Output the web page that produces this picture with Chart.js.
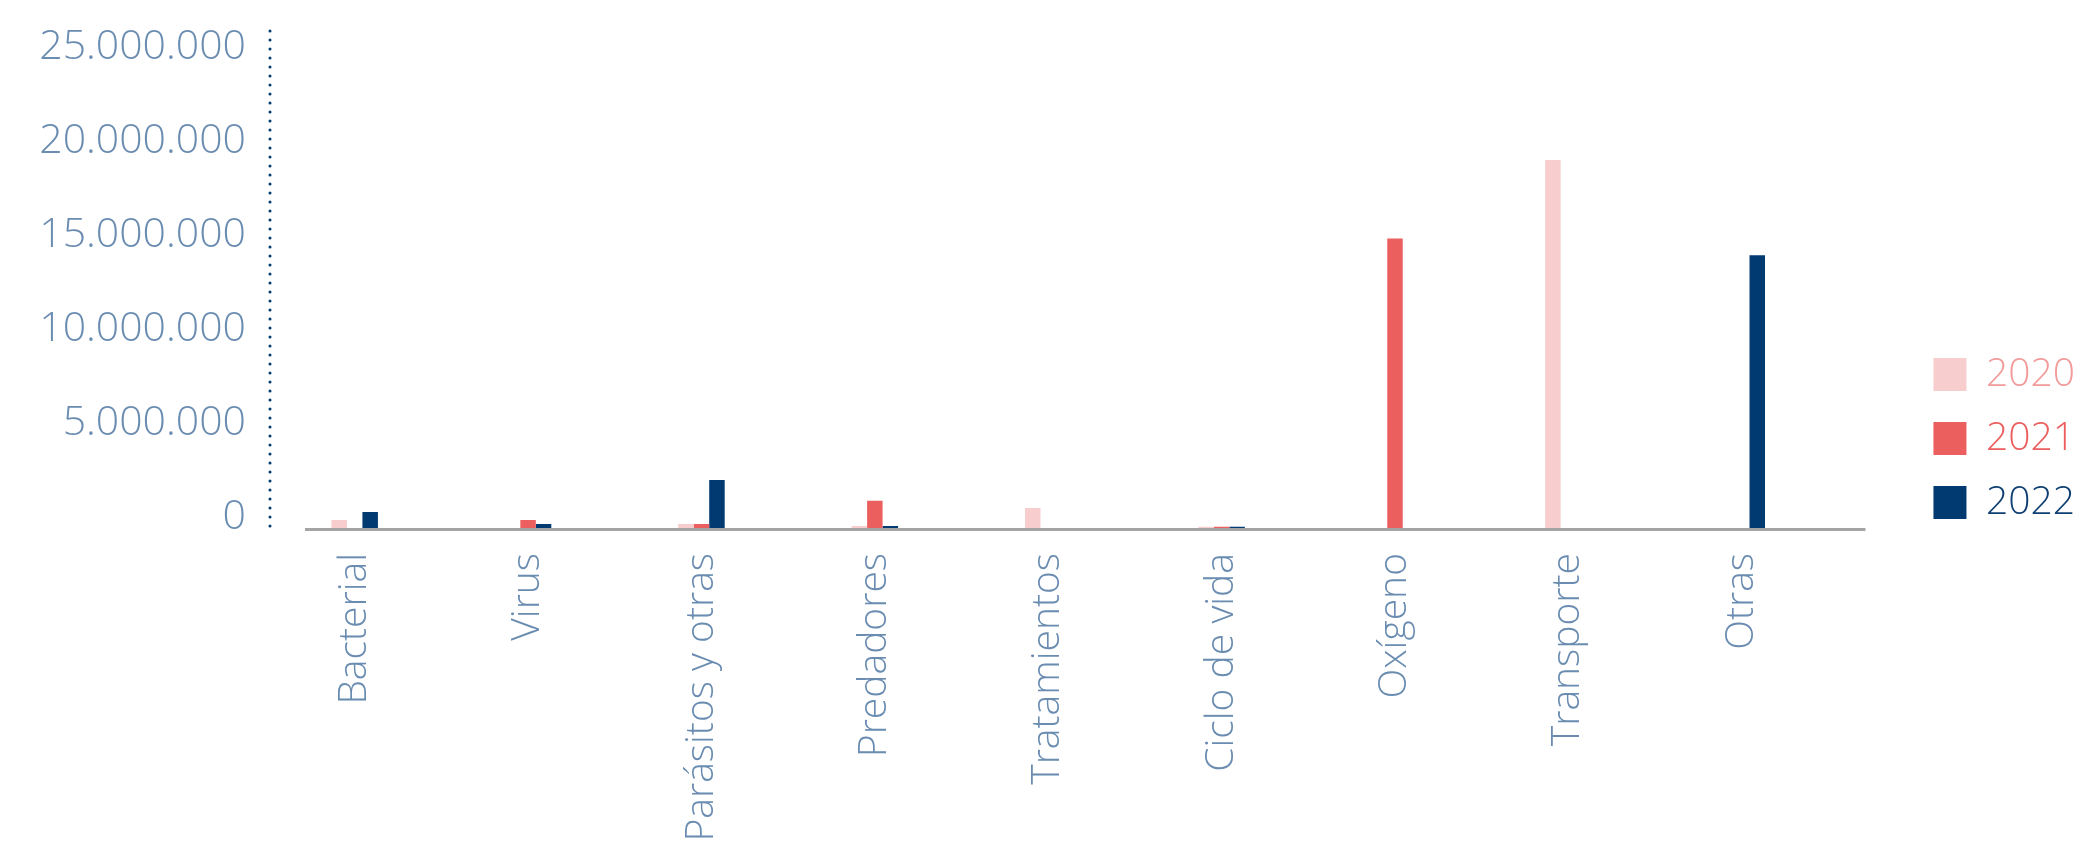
<!DOCTYPE html>
<html>
<head>
<meta charset="utf-8">
<script src="https://cdn.jsdelivr.net/npm/chart.js@4.4.1/dist/chart.umd.min.js"></script>
<style>
  html, body { margin: 0; padding: 0; background: #ffffff; }
  #wrap { width: 2085px; height: 853px; position: relative; }
</style>
</head>
<body>
<div id="wrap"><canvas id="c" width="2085" height="853"></canvas></div>
<script>
const categories = ['Bacterial', 'Virus', 'Parásitos y otras', 'Predadores', 'Tratamientos', 'Ciclo de vida', 'Oxígeno', 'Transporte', 'Otras'];
const seriesNames = ['2020', '2021', '2022'];
const values2020 = [430000, 0, 210000, 100000, 1070000, 60000, 0, 19570000, 0];
const values2021 = [0, 430000, 210000, 1450000, 0, 60000, 15400000, 0, 0];
const values2022 = [850000, 210000, 2550000, 100000, 0, 60000, 0, 0, 14500000];
const yTickValues = [0, 5000000, 10000000, 15000000, 20000000, 25000000];
const yMax = 26800000;

const barColors = ['#f7cdcd', '#ec5f5f', '#003a70'];
const legendTextColors = ['#f29b9b', '#ec5f5f', '#0f3f72'];
const tickColor = '#6a8cb1';
const fontFamily = "'Open Sans', Roboto, sans-serif";

function fmt(v) {
  return String(Math.round(v)).replace(/\B(?=(\d{3})+(?!\d))/g, '.');
}

const axisDecorPlugin = {
  id: 'axisDecor',
  afterDatasetsDraw(chart) {
    const { ctx, chartArea, scales } = chart;
    const y0 = scales.y.getPixelForValue(0);
    ctx.save();
    ctx.fillStyle = '#a4a4a4';
    ctx.fillRect(chartArea.left + 37, y0, chartArea.right - chartArea.left, 3);
    ctx.strokeStyle = '#003a70';
    ctx.lineWidth = 3;
    ctx.lineCap = 'round';
    ctx.setLineDash([0, 9]);
    ctx.beginPath();
    ctx.moveTo(scales.y.right + 2, chartArea.bottom - 2);
    ctx.lineTo(scales.y.right + 2, chartArea.top);
    ctx.stroke();
    ctx.restore();
  }
};

const seriesValues = [values2020, values2021, values2022];

new Chart(document.getElementById('c'), {
  type: 'bar',
  data: {
    labels: categories,
    datasets: seriesNames.map((name, i) => ({
      label: name,
      data: seriesValues[i],
      backgroundColor: barColors[i],
      borderWidth: 0,
      categoryPercentage: 0.268,
      barPercentage: 1.0,
      yAxisID: 'y'
    }))
  },
  plugins: [axisDecorPlugin],
  options: {
    responsive: false,
    animation: false,
    devicePixelRatio: 1,
    layout: { padding: { top: 24, left: 0, right: 0, bottom: 0 } },
    plugins: {
      tooltip: { enabled: false },
      legend: {
        position: 'right',
        align: 'center',
        labels: {
          boxWidth: 33,
          boxHeight: 33,
          padding: 25,
          font: { family: fontFamily, size: 39, weight: '300' },
          generateLabels(chart) {
            return chart.data.datasets.map((ds, i) => ({
              text: ds.label,
              fillStyle: barColors[i],
              strokeStyle: barColors[i],
              lineWidth: 0,
              fontColor: legendTextColors[i],
              hidden: false,
              datasetIndex: i
            }));
          }
        }
      }
    },
    scales: {
      x: {
        grid: { display: false, drawTicks: false },
        border: { display: false },
        ticks: {
          color: tickColor,
          font: { family: fontFamily, size: 39, weight: '300' },
          maxRotation: 90,
          minRotation: 90,
          padding: 25,
          autoSkip: false
        },
        afterFit(s) { s.height = 325; s.paddingLeft = 0; s.paddingRight = 0; }
      },
      y: {
        min: 0,
        max: yMax,
        grid: { display: false, drawTicks: false },
        border: { display: false },
        ticks: {
          color: tickColor,
          font: { family: fontFamily, size: 41, weight: '300' },
          padding: 22,
          labelOffset: -11,
          callback: (v) => fmt(v)
        },
        afterBuildTicks(s) { s.ticks = yTickValues.map(v => ({ value: v })); },
        afterFit(s) { s.width = 268; s.paddingTop = 0; s.paddingBottom = 0; }
      },
      spacer: {
        position: 'right',
        display: true,
        grid: { display: false, drawTicks: false },
        border: { display: false },
        ticks: { display: false },
        afterFit(s) { s.width = 80; }
      }
    }
  }
});
</script>
</body>
</html>
